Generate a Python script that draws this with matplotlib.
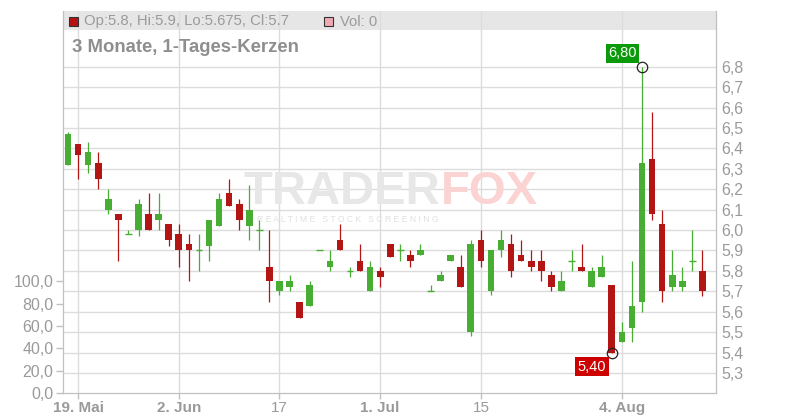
#!/usr/bin/env python3
"""Candlestick chart, 3 months of daily candles, styled like the TraderFox widget."""

import matplotlib

matplotlib.use("Agg")
import matplotlib.pyplot as plt
from matplotlib.patches import Rectangle

plt.rcParams["font.family"] = ["Liberation Sans", "DejaVu Sans"]

# Data, one entry per trading day starting 16 May
opens = [6.32, 6.42, 6.32, 6.33, 6.10, 6.08, 5.98, 6.00, 6.08, 6.05,
         6.03, 5.98, 5.93, 5.90, 5.92, 6.02, 6.18, 6.13, 6.02, 6.00,
         5.82, 5.70, 5.72, 5.65, 5.63, 5.90, 5.82, 5.95, 5.80, 5.85,
         5.70, 5.80, 5.93, 5.90, 5.88, 5.88, 5.70, 5.75, 5.85, 5.82,
         5.50, 5.95, 5.70, 5.90, 5.93, 5.88, 5.85, 5.85, 5.78, 5.70,
         5.85, 5.82, 5.72, 5.77, 5.73, 5.45, 5.52, 5.65, 6.35, 6.03,
         5.72, 5.72, 5.85, 5.80]
highs = [6.48, 6.42, 6.43, 6.38, 6.20, 6.08, 6.00, 6.15, 6.18, 6.18,
         6.03, 6.03, 5.98, 5.98, 6.05, 6.18, 6.25, 6.15, 6.22, 6.05,
         6.00, 5.75, 5.78, 5.65, 5.75, 5.90, 5.90, 6.03, 5.82, 5.93,
         5.85, 5.82, 5.93, 5.93, 5.90, 5.93, 5.73, 5.80, 5.88, 5.88,
         5.95, 6.00, 5.90, 6.00, 5.98, 5.95, 5.90, 5.90, 5.80, 5.80,
         5.90, 5.93, 5.82, 5.88, 5.73, 5.55, 5.85, 6.80, 6.58, 6.10,
         5.90, 5.82, 6.00, 5.90]
lows = [6.32, 6.25, 6.28, 6.20, 6.08, 5.85, 5.98, 5.97, 6.00, 6.00,
        5.92, 5.82, 5.75, 5.80, 5.85, 6.02, 6.12, 6.00, 5.95, 5.90,
        5.65, 5.68, 5.70, 5.57, 5.63, 5.90, 5.80, 5.90, 5.77, 5.80,
        5.70, 5.72, 5.87, 5.85, 5.82, 5.88, 5.70, 5.75, 5.85, 5.72,
        5.48, 5.82, 5.68, 5.87, 5.77, 5.85, 5.80, 5.75, 5.70, 5.70,
        5.80, 5.80, 5.72, 5.77, 5.40, 5.45, 5.45, 5.60, 6.05, 5.65,
        5.70, 5.70, 5.80, 5.675]
closes = [6.47, 6.37, 6.38, 6.25, 6.15, 6.05, 5.98, 6.13, 6.00, 6.08,
          5.95, 5.90, 5.90, 5.90, 6.05, 6.15, 6.12, 6.05, 6.10, 6.00,
          5.75, 5.75, 5.75, 5.57, 5.73, 5.90, 5.85, 5.90, 5.80, 5.80,
          5.82, 5.77, 5.87, 5.90, 5.85, 5.90, 5.70, 5.78, 5.88, 5.72,
          5.93, 5.85, 5.90, 5.95, 5.80, 5.85, 5.82, 5.80, 5.72, 5.75,
          5.85, 5.80, 5.80, 5.82, 5.40, 5.50, 5.63, 6.33, 6.08, 5.70,
          5.78, 5.75, 5.85, 5.70]

tick_idx = [1, 11, 21, 31, 41, 55]
tick_labels = ["19. Mai", "2. Jun", "17", "1. Jul", "15", "4. Aug"]
tick_bold = [True, True, False, True, False, True]

price_ticks = [5.3, 5.4, 5.5, 5.6, 5.7, 5.8, 5.9, 6.0, 6.1, 6.2, 6.3, 6.4, 6.5, 6.6, 6.7, 6.8]
volume_ticks = [0, 20, 40, 60, 80, 100]

GREEN = "#47ad33"
RED = "#b31515"
GRID = "#dcdcdc"
AXIS = "#c0c0c0"
LABEL = "#9a9a9a"
W, H = 800, 420


def fx(px):
    return px / W


def fy(py):
    return 1 - py / H


def comma(v, digits):
    return f"{v:.{digits}f}".replace(".", ",")


fig = plt.figure(figsize=(8, 4.2), dpi=100)
ax_vol = fig.add_axes([fx(63), fy(393), (716 - 63) / W, (393 - 11) / H])
ax = ax_vol.twinx()

# volume axis (left) -- no volume, only the scale
ax_vol.set_ylim(0, 342)
ax_vol.set_yticks(volume_ticks)
ax_vol.set_yticklabels([comma(v, 1) for v in volume_ticks])
ax_vol.tick_params(axis="y", colors=AXIS, labelcolor=LABEL, labelsize=11.5, length=5, width=1, pad=2)
ax_vol.set_xlim(-0.5, 64.35)
ax_vol.set_xticks(tick_idx)
ax_vol.set_xticklabels(tick_labels)
ax_vol.tick_params(axis="x", colors=AXIS, labelcolor=LABEL, labelsize=11, length=4, width=1, pad=2)
for lbl, bold in zip(ax_vol.get_xticklabels(), tick_bold):
    lbl.set_fontweight("bold" if bold else "normal")

# header band
ax_vol.add_patch(Rectangle((0, (393 - 30) / 382), 1, 19 / 382, transform=ax_vol.transAxes,
                           facecolor="#e6e6e6", edgecolor="none", zorder=0))

for spine in ("top",):
    ax_vol.spines[spine].set_visible(False)
    ax.spines[spine].set_visible(False)
for spine in ("left", "right", "bottom"):
    ax_vol.spines[spine].set_color(AXIS)
    ax.spines[spine].set_color(AXIS)

# price axis (right)
ax.set_ylim(5.202, 7.073)
ax.set_xlim(-0.5, 64.35)
ax.set_yticks(price_ticks)
ax.set_yticklabels([comma(v, 1) for v in price_ticks])
ax.tick_params(axis="y", colors=AXIS, labelcolor=LABEL, labelsize=11.5, length=0, pad=4)
ax.grid(axis="y", color=GRID, lw=1.0)
for t in tick_idx:
    ax.axvline(t, color=GRID, lw=1.0, zorder=0.5)

# watermark
fig.text(fx(440), fy(192), "TRADER", fontsize=34, fontweight="bold", color="#e7e7e7",
         ha="right", va="center", zorder=0)
fig.text(fx(441), fy(192), "FOX", fontsize=34, fontweight="bold", color="#fbd3d3",
         ha="left", va="center", zorder=0)
fig.text(fx(257), fy(219), "R E A L T I M E   S T O C K   S C R E E N I N G", fontsize=6.2,
         color="#e0e0e0", ha="left", va="center", zorder=0)

# candles
body_w = 0.66
for i, (o, h, l, c) in enumerate(zip(opens, highs, lows, closes)):
    col = GREEN if c >= o else RED
    ax.vlines(i, l, h, color=col, lw=0.9, zorder=3)
    if abs(c - o) < 1e-9:
        ax.hlines(o, i - body_w / 2, i + body_w / 2, color=col, lw=1.0, zorder=3)
    else:
        ax.bar(i, abs(c - o), bottom=min(o, c), width=body_w, color=col, zorder=4)

# high / low markers
hi_i = highs.index(max(highs))
lo_i = lows.index(min(lows))
ax.plot([hi_i, lo_i], [highs[hi_i], lows[lo_i]], "o", ms=7.5, mfc="none", mec="#222222", mew=0.9, zorder=5)
ax.annotate(comma(highs[hi_i], 2), (hi_i, highs[hi_i]), xytext=(-19.5, 13.5), textcoords="offset pixels",
            ha="center", va="center", color="white", fontsize=10.5,
            bbox=dict(boxstyle="square,pad=0.18", fc="#0a9a0a", ec="none"), zorder=6)
ax.annotate(comma(lows[lo_i], 2), (lo_i, lows[lo_i]), xytext=(-20, -14), textcoords="offset pixels",
            ha="center", va="center", color="white", fontsize=10.5,
            bbox=dict(boxstyle="square,pad=0.18", fc="#cc0000", ec="none"), zorder=6)

# header legend
fig.patches.append(Rectangle((fx(69), fy(26)), 9 / W, 9 / H, transform=fig.transFigure,
                             facecolor="#b31212", edgecolor="#333333", lw=0.8))
fig.patches.append(Rectangle((fx(324), fy(26)), 9 / W, 9 / H, transform=fig.transFigure,
                             facecolor="#f0aab2", edgecolor="#333333", lw=0.8))
fig.text(fx(84), fy(21.5), f"Op:{opens[-1]}, Hi:{highs[-1]}, Lo:{lows[-1]}, Cl:{closes[-1]}",
         fontsize=10.7, color=LABEL, ha="left", va="center")
fig.text(fx(340), fy(21.5), "Vol: 0", fontsize=10.7, color=LABEL, ha="left", va="center")
fig.text(fx(72), fy(47), "3 Monate, 1-Tages-Kerzen", fontsize=13.3, fontweight="bold",
         color="#8e8e8e", ha="left", va="center")

fig.savefig("out.png", dpi=100)
